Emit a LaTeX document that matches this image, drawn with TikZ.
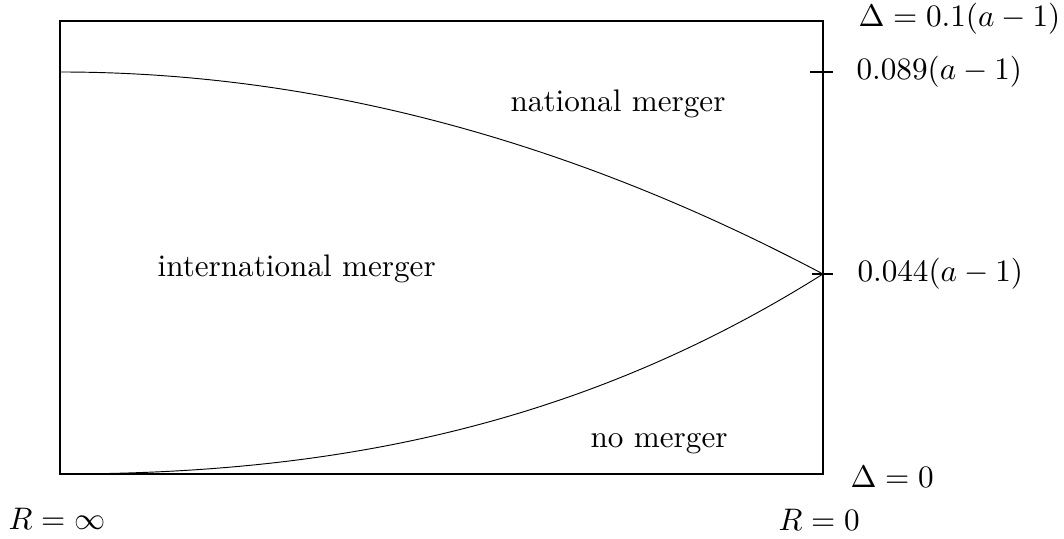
\documentclass[tikz,border=0pt]{standalone}
\usepackage{amsmath}
\usepackage{tikz}
\usetikzlibrary{positioning}

\begin{document}
\begin{tikzpicture}[
  % ── Style definitions ──
  x=0.3209pt, y=-0.3209pt,
  frame/.style ={line width=0.4pt},
  bound/.style ={line width=0.3pt},
  tickmk/.style={line width=0.4pt},
  axlbl/.style ={inner sep=0pt, anchor=west},
  region/.style={inner sep=0pt, anchor=base west},
  % ── Node placement ──
  node distance=0.3cm and 0.37cm
]
\useasboundingbox (0,0) rectangle (1064,539);

% ─────────── Frame ───────────────────────────────────────────
\coordinate (tl)  at (60,21);
\coordinate (tr)  at (823,21);
\coordinate (bl)  at (60,474);
\coordinate (br)  at (823,474);
\coordinate (hi)  at (823,72);
\coordinate (mid) at (823,274);
\coordinate (top) at (60,72);
\draw[frame] (tl) rectangle (br);

% ─────────── Region boundaries ───────────────────────────────
\draw[bound] (top) .. controls (314.3,72) and (568.7,139.3) .. (mid);
\draw[bound] (bl) .. controls (314.3,474) and (568.7,434) .. (mid);

% ─────────── Ticks on the right edge ─────────────────────────
\draw[tickmk] ([xshift=-4.2pt]hi)  -- ([xshift=3.2pt]hi);
\draw[tickmk] ([xshift=-3.5pt]mid) -- ([xshift=3.2pt]mid);

% ─────────── Delta axis labels ───────────────────────────────
\node[axlbl] (dtop) at (858,19)     {$\Delta = 0.1(a-1)$};
\node[axlbl, right=10.6pt of hi]  (dhi)  {$0.089(a-1)$};
\node[axlbl, right=10.9pt of mid] (dmid) {$0.044(a-1)$};
\node[axlbl] (dzero) at (850,477)   {$\Delta = 0$};

% ─────────── R axis labels ───────────────────────────────────
\node[axlbl] (rinf)  at (8,519)     {$R = \infty$};
\node[axlbl] (rzero) at (778,520)   {$R = 0$};

% ─────────── Region labels ───────────────────────────────────
\node[region] (nat)   at (510,112) {national merger};
\node[region] (intl)  at (157,277) {international merger};
\node[region] (none)  at (590,448) {no merger};
\end{tikzpicture}
\end{document}
